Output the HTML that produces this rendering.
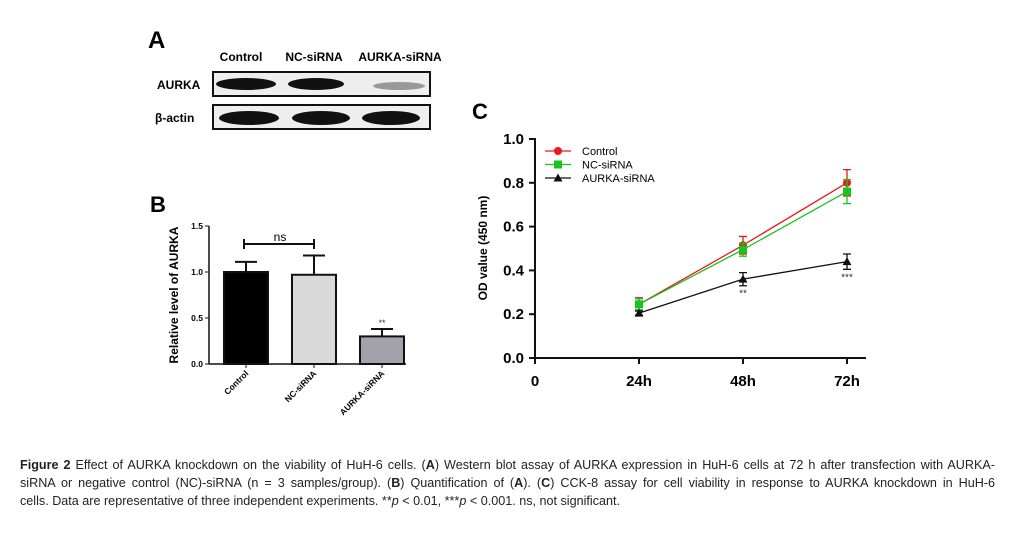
<!DOCTYPE html>
<html><head><meta charset="utf-8"><style>
body{margin:0;background:#fff;width:1015px;height:545px;overflow:hidden;position:relative;font-family:"Liberation Sans",sans-serif}
svg{position:absolute;left:0;top:0}
.cap{position:absolute;left:20px;width:975px;font-size:12.6px;color:#222;text-align:justify;text-align-last:justify;white-space:nowrap;line-height:18px}
.cap.last{text-align-last:left}
</style></head><body>
<svg width="1015" height="545" id="fig" font-family="Liberation Sans, sans-serif">
 <g>
  <text x="148" y="48" font-size="24" font-weight="bold">A</text>
  <text x="241" y="61" font-size="12" font-weight="bold" text-anchor="middle">Control</text>
  <text x="314" y="61" font-size="12" font-weight="bold" text-anchor="middle">NC-siRNA</text>
  <text x="400" y="61" font-size="12" font-weight="bold" text-anchor="middle">AURKA-siRNA</text>
  <text x="157" y="89" font-size="12" font-weight="bold">AURKA</text>
  <text x="155" y="122" font-size="12" font-weight="bold">β-actin</text>
  <rect x="213" y="72" width="217" height="24" fill="#eee" stroke="#111" stroke-width="2"/>
  <rect x="213" y="105" width="217" height="24" fill="#eee" stroke="#111" stroke-width="2"/>
  <ellipse cx="246" cy="84" rx="30" ry="6" fill="#111"/>
  <ellipse cx="316" cy="84" rx="28" ry="6" fill="#111"/>
  <ellipse cx="399" cy="86" rx="26" ry="4" fill="#999"/>
  <ellipse cx="249" cy="118" rx="30" ry="7" fill="#111"/>
  <ellipse cx="321" cy="118" rx="29" ry="7" fill="#111"/>
  <ellipse cx="391" cy="118" rx="29" ry="7" fill="#111"/>
 </g>
 <g id="chartB"></g>
 <g id="chartC"></g>
</svg>
<div class="cap" style="top:456px"><b>Figure 2</b> Effect of AURKA knockdown on the viability of HuH-6 cells. (<b>A</b>) Western blot assay of AURKA expression in HuH-6 cells at 72 h after transfection with AURKA-</div>
<div class="cap" style="top:474px">siRNA or negative control (NC)-siRNA (n = 3 samples/group). (<b>B</b>) Quantification of (<b>A</b>). (<b>C</b>) CCK-8 assay for cell viability in response to AURKA knockdown in HuH-6</div>
<div class="cap last" style="top:492px">cells. Data are representative of three independent experiments. **<i>p</i> &lt; 0.01, ***<i>p</i> &lt; 0.001. ns, not significant.</div>
<script>
const bCategories=["Control","NC-siRNA","AURKA-siRNA"];
const bValues=[1.0,0.97,0.30];
const bErrors=[0.11,0.21,0.08];
const bTicks=["0.0","0.5","1.0","1.5"];
const cCategories=["24h","48h","72h"];
const cSeriesNames=["Control","NC-siRNA","AURKA-siRNA"];
const cControl=[0.245,0.515,0.80];
const cControlErr=[0.03,0.04,0.06];
const cNC=[0.245,0.495,0.76];
const cNCErr=[0.025,0.03,0.055];
const cAurka=[0.205,0.36,0.44];
const cAurkaErr=[0.01,0.03,0.035];
const cTicks=["0.0","0.2","0.4","0.6","0.8","1.0"];
const NS="http://www.w3.org/2000/svg";
function mk(p,t,a,txt){const e=document.createElementNS(NS,t);for(const k in a)e.setAttribute(k,a[k]);if(txt!==undefined)e.textContent=txt;p.appendChild(e);return e;}
// Chart B
const B=document.getElementById('chartB');
const by=v=>364-v*92, bx=i=>246+i*68;
mk(B,'text',{x:150,y:212,'font-size':22,'font-weight':'bold'},'B');
mk(B,'line',{x1:209,y1:226,x2:209,y2:364,stroke:'#111','stroke-width':1.5});
mk(B,'line',{x1:209,y1:364,x2:406,y2:364,stroke:'#111','stroke-width':1.5});
bTicks.forEach(t=>{const v=parseFloat(t);
 mk(B,'line',{x1:205,y1:by(v),x2:209,y2:by(v),stroke:'#111'});
 const e=mk(B,'text',{x:203,y:by(v)+3,'font-size':8.5,'font-weight':'bold','text-anchor':'end'},t);
 });
const fills=['#000','#d9d9d9','#a3a1aa'];
bCategories.forEach((c,i)=>{
 const x=bx(i),y=by(bValues[i]),ey=by(bValues[i]+bErrors[i]);
 mk(B,'line',{x1:x,y1:y,x2:x,y2:ey,stroke:'#111','stroke-width':2});
 mk(B,'line',{x1:x-11,y1:ey,x2:x+11,y2:ey,stroke:'#111','stroke-width':2});
 const r=mk(B,'rect',{x:x-22,y:y,width:44,height:364-y,fill:fills[i],stroke:'#111','stroke-width':2});
 
 mk(B,'line',{x1:x,y1:364,x2:x,y2:368,stroke:'#111'});
 const t=mk(B,'text',{x:x+3,y:374,'font-size':8.5,'font-weight':'bold','text-anchor':'end',transform:`rotate(-45 ${x+3} 374)`},c);
 
});
mk(B,'text',{x:bx(2),y:by(bValues[2]+bErrors[2])-3,'font-size':9,'text-anchor':'middle',fill:'#333'},'**');
mk(B,'path',{d:`M${bx(0)-2} 239V249M${bx(0)-2} 244H${bx(1)}M${bx(1)} 239V249`,stroke:'#111','stroke-width':2,fill:'none'});
mk(B,'text',{x:280,y:241,'font-size':12,'text-anchor':'middle'},'ns');
mk(B,'text',{x:178,y:295,'font-size':12,'font-weight':'bold','text-anchor':'middle',transform:'rotate(-90 178 295)'},'Relative level of AURKA');
// Chart C
const C=document.getElementById('chartC');
const cy=v=>358-v*219, cx=i=>639+i*104;
mk(C,'text',{x:472,y:119,'font-size':22,'font-weight':'bold'},'C');
mk(C,'line',{x1:535,y1:138,x2:535,y2:358,stroke:'#111','stroke-width':2});
mk(C,'line',{x1:535,y1:358,x2:866,y2:358,stroke:'#111','stroke-width':2});
cTicks.forEach(t=>{const v=parseFloat(t);
 mk(C,'line',{x1:529,y1:cy(v),x2:535,y2:cy(v),stroke:'#111','stroke-width':2});
 const e=mk(C,'text',{x:524,y:cy(v)+5,'font-size':15,'font-weight':'bold','text-anchor':'end'},t);
 });
mk(C,'line',{x1:535,y1:358,x2:535,y2:364,stroke:'#111','stroke-width':2});
mk(C,'text',{x:535,y:386,'font-size':15,'font-weight':'bold','text-anchor':'middle'},'0');
cCategories.forEach((c,i)=>{
 mk(C,'line',{x1:cx(i),y1:358,x2:cx(i),y2:364,stroke:'#111','stroke-width':2});
 const e=mk(C,'text',{x:cx(i),y:386,'font-size':15,'font-weight':'bold','text-anchor':'middle'},c);
 });
mk(C,'text',{x:487,y:248,'font-size':12,'font-weight':'bold','text-anchor':'middle',transform:'rotate(-90 487 248)'},'OD value (450 nm)');
const series=[[cControl,cControlErr,'#e8191c','circle'],[cNC,cNCErr,'#19c41e','square'],[cAurka,cAurkaErr,'#111','triangle']];
function marker(g,x,y,col,shape){
 if(shape==='circle')return mk(g,'circle',{cx:x,cy:y,r:4,fill:col});
 if(shape==='square')return mk(g,'rect',{x:x-4,y:y-4,width:8,height:8,fill:col});
 return mk(g,'path',{d:`M${x} ${y-4.5}L${x+4.5} ${y+3.5}L${x-4.5} ${y+3.5}Z`,fill:col});
}
series.forEach((s,si)=>{
 const [vals,errs,col,shape]=s;
 const g=mk(C,'g',{});
 
 
 mk(g,'polyline',{points:vals.map((v,i)=>cx(i)+','+cy(v)).join(' '),fill:'none',stroke:col,'stroke-width':1.3});
 vals.forEach((v,i)=>{
  const x=cx(i);
  mk(g,'path',{d:`M${x} ${cy(v-errs[i])}V${cy(v+errs[i])}M${x-4} ${cy(v-errs[i])}H${x+4}M${x-4} ${cy(v+errs[i])}H${x+4}`,stroke:col,'stroke-width':1.3,fill:'none'});
  const m=marker(g,x,cy(v),col,shape);
  
  
 });
 const ly=151+si*13.5;
 const lg=mk(C,'g',{});
 
 
 mk(lg,'line',{x1:545,y1:ly,x2:571,y2:ly,stroke:col,'stroke-width':1.3});
 marker(lg,558,ly,col,shape);
 mk(lg,'text',{x:582,y:ly+4,'font-size':11},cSeriesNames[si]);
});
mk(C,'text',{x:cx(1),y:cy(cAurka[1]-cAurkaErr[1])+11,'font-size':10,'text-anchor':'middle',fill:'#333'},'**');
mk(C,'text',{x:cx(2),y:cy(cAurka[2]-cAurkaErr[2])+11,'font-size':10,'text-anchor':'middle',fill:'#333'},'***');
</script>
</body></html>
